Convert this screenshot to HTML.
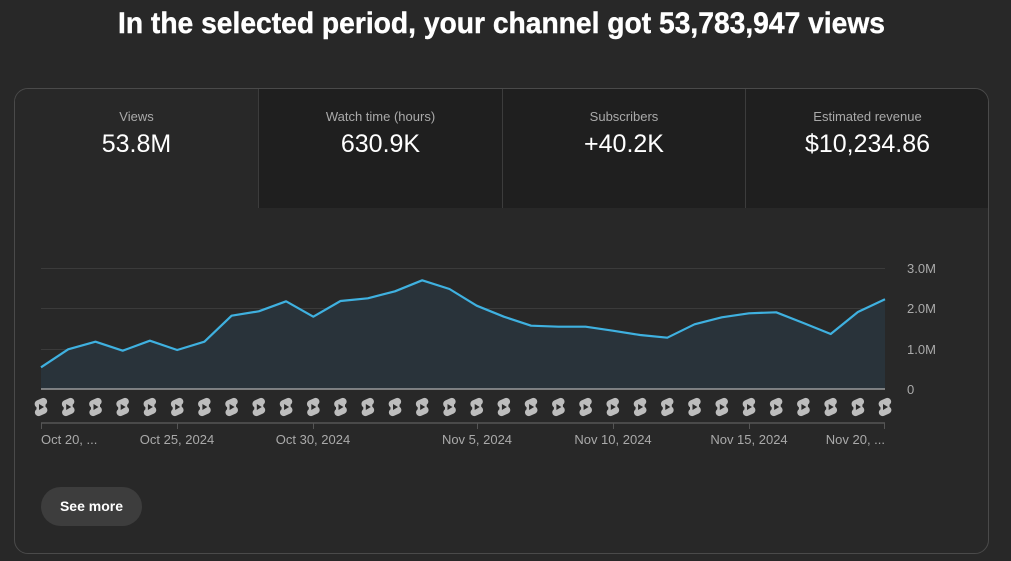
<!DOCTYPE html>
<html><head><meta charset="utf-8">
<style>
html,body{margin:0;padding:0;background:#282828;width:1011px;height:561px;overflow:hidden;font-family:"Liberation Sans",Arial,sans-serif;}
.abs{position:absolute;}
.card{position:absolute;left:14px;top:88px;width:973px;height:464px;border:1px solid #4a4a4a;border-radius:14px;overflow:hidden;background:#282828;}
.tab{position:absolute;top:0;height:119px;text-align:center;}
.tab .lbl{position:absolute;left:0;right:0;top:20px;font-size:13px;color:#aaaaaa;}
.tab .val{position:absolute;left:0;right:0;top:41px;font-size:25px;color:#ffffff;}
.btn{position:absolute;left:41px;top:487px;width:101px;height:39px;border-radius:20px;background:#3d3d3d;color:#fff;font-weight:bold;font-size:14px;line-height:39px;text-align:center;}
</style></head><body>
<svg class="abs" style="left:0;top:0" width="1011" height="50">
<text x="118" y="33" font-family="Liberation Sans, Arial, sans-serif" font-weight="bold" font-size="30" fill="#ffffff" stroke="#ffffff" stroke-width="0.4" textLength="767" lengthAdjust="spacingAndGlyphs">In the selected period, your channel got 53,783,947 views</text>
</svg>
<div class="card">
  <div class="tab" style="left:0;width:243px;background:#282828;">
    <div class="lbl">Views</div><div class="val">53.8M</div>
  </div>
  <div class="tab" style="left:243px;width:243px;background:#1f1f1f;border-left:1px solid #3c3c3c;">
    <div class="lbl">Watch time (hours)</div><div class="val">630.9K</div>
  </div>
  <div class="tab" style="left:487px;width:242px;background:#1f1f1f;border-left:1px solid #3c3c3c;">
    <div class="lbl">Subscribers</div><div class="val">+40.2K</div>
  </div>
  <div class="tab" style="left:730px;width:243px;background:#1f1f1f;border-left:1px solid #3c3c3c;">
    <div class="lbl">Estimated revenue</div><div class="val">$10,234.86</div>
  </div>
</div>
<svg class="abs" style="left:0;top:0" width="1011" height="561">
<defs>
  <g id="sh">
    <rect x="-6.5" y="-8" width="13" height="7.5" rx="3.7" fill="#bdbdbd" transform="rotate(-25 0 -4)"/>
    <rect x="-6.5" y="0.5" width="13" height="7.5" rx="3.7" fill="#bdbdbd" transform="rotate(-25 0 4)"/>
    <rect x="-4.5" y="-4.5" width="9" height="9" fill="#bdbdbd"/>
    <polygon points="-2,-3 3,0 -2,3" fill="#282828"/>
  </g>
</defs>
<g stroke="#3b3b3b" stroke-width="1">
  <line x1="41" y1="268.5" x2="885" y2="268.5"/>
  <line x1="41" y1="308.5" x2="885" y2="308.5"/>
  <line x1="41" y1="349.5" x2="885" y2="349.5"/>
</g>
<polygon fill="#29333a" points="41,389 41,367.3 68.2,349.3 95.5,341.7 122.7,350.7 149.9,340.7 177.2,350 204.4,341.7 231.6,315.7 258.8,311.3 286.1,301.3 313.3,316.7 340.5,301 367.8,298.3 395,291.3 422.2,280.3 449.5,289 476.7,305.7 503.9,316.7 531.1,325.7 558.4,326.7 585.6,326.7 612.8,330.7 640.1,335 667.3,337.7 694.5,324.3 721.8,317.3 749,313.3 776.2,312.3 803.4,323 830.7,334 857.9,312 885,299.3 885,389"/>
<polyline fill="none" stroke="#3fb1e0" stroke-width="2.2" stroke-linejoin="round" points="41,367.3 68.2,349.3 95.5,341.7 122.7,350.7 149.9,340.7 177.2,350 204.4,341.7 231.6,315.7 258.8,311.3 286.1,301.3 313.3,316.7 340.5,301 367.8,298.3 395,291.3 422.2,280.3 449.5,289 476.7,305.7 503.9,316.7 531.1,325.7 558.4,326.7 585.6,326.7 612.8,330.7 640.1,335 667.3,337.7 694.5,324.3 721.8,317.3 749,313.3 776.2,312.3 803.4,323 830.7,334 857.9,312 885,299.3"/>
<line x1="41" y1="389" x2="885" y2="389" stroke="#b0b0b0" stroke-width="1.2"/>
<g font-family="Liberation Sans, Arial, sans-serif" font-size="13" fill="#aaaaaa">
  <text x="907" y="273">3.0M</text>
  <text x="907" y="313">2.0M</text>
  <text x="907" y="354">1.0M</text>
  <text x="907" y="394">0</text>
</g>
<g>
  <use href="#sh" x="41" y="407"/><use href="#sh" x="68.2" y="407"/><use href="#sh" x="95.5" y="407"/><use href="#sh" x="122.7" y="407"/>
  <use href="#sh" x="149.9" y="407"/><use href="#sh" x="177.2" y="407"/><use href="#sh" x="204.4" y="407"/><use href="#sh" x="231.6" y="407"/>
  <use href="#sh" x="258.8" y="407"/><use href="#sh" x="286.1" y="407"/><use href="#sh" x="313.3" y="407"/><use href="#sh" x="340.5" y="407"/>
  <use href="#sh" x="367.8" y="407"/><use href="#sh" x="395" y="407"/><use href="#sh" x="422.2" y="407"/><use href="#sh" x="449.5" y="407"/>
  <use href="#sh" x="476.7" y="407"/><use href="#sh" x="503.9" y="407"/><use href="#sh" x="531.1" y="407"/><use href="#sh" x="558.4" y="407"/>
  <use href="#sh" x="585.6" y="407"/><use href="#sh" x="612.8" y="407"/><use href="#sh" x="640.1" y="407"/><use href="#sh" x="667.3" y="407"/>
  <use href="#sh" x="694.5" y="407"/><use href="#sh" x="721.8" y="407"/><use href="#sh" x="749" y="407"/><use href="#sh" x="776.2" y="407"/>
  <use href="#sh" x="803.4" y="407"/><use href="#sh" x="830.7" y="407"/><use href="#sh" x="857.9" y="407"/><use href="#sh" x="885" y="407"/>
</g>
<line x1="41" y1="423" x2="885" y2="423" stroke="#555555" stroke-width="1.5"/>
<g stroke="#555555" stroke-width="1">
  <line x1="41.5" y1="423" x2="41.5" y2="429"/>
  <line x1="177.5" y1="423" x2="177.5" y2="429"/>
  <line x1="313.5" y1="423" x2="313.5" y2="429"/>
  <line x1="477.5" y1="423" x2="477.5" y2="429"/>
  <line x1="613.5" y1="423" x2="613.5" y2="429"/>
  <line x1="749.5" y1="423" x2="749.5" y2="429"/>
  <line x1="884.5" y1="423" x2="884.5" y2="429"/>
</g>
<g font-family="Liberation Sans, Arial, sans-serif" font-size="13" fill="#aaaaaa">
  <text x="41" y="444">Oct 20, ...</text>
  <text x="177" y="444" text-anchor="middle">Oct 25, 2024</text>
  <text x="313" y="444" text-anchor="middle">Oct 30, 2024</text>
  <text x="477" y="444" text-anchor="middle">Nov 5, 2024</text>
  <text x="613" y="444" text-anchor="middle">Nov 10, 2024</text>
  <text x="749" y="444" text-anchor="middle">Nov 15, 2024</text>
  <text x="885" y="444" text-anchor="end">Nov 20, ...</text>
</g>
</svg>
<div class="btn">See more</div>
</body></html>
